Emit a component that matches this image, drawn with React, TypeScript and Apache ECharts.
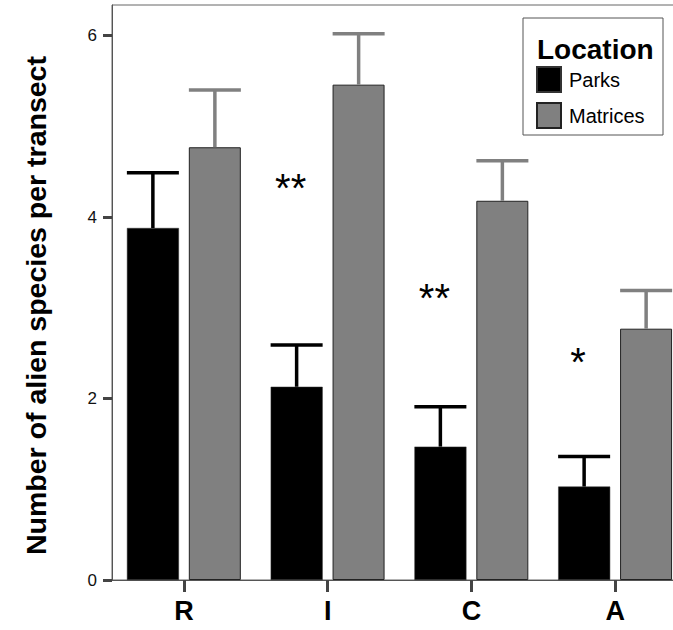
import React, { useEffect, useRef } from "react";
import * as echarts from "echarts";

const categories = ["R", "I", "C", "A"];
const parksMean = [3.88, 2.13, 1.47, 1.03];
const parksUpper = [4.49, 2.59, 1.91, 1.36];
const matricesMean = [4.77, 5.46, 4.18, 2.77];
const matricesUpper = [5.4, 6.02, 4.62, 3.19];
const sigLabels = ["", "**", "**", "*"];
const sigY = [0, 4.39, 3.18, 2.47];
const yTicks = [0, 2, 4, 6];
const yMax = 6.338;

const FONT = "'Liberation Sans', Arial, Helvetica, sans-serif";
const BAR_W = 52;
const HALF_OFF = 31;

function errorSeries(name: string, means: number[], uppers: number[], color: string, dir: number) {
  return {
    type: "custom",
    name: name + " error",
    z: 5,
    silent: true,
    data: means.map((m, i) => [i, m, uppers[i]]),
    renderItem: (params: any, api: any) => {
      const base = api.coord([api.value(0), api.value(1)]);
      const top = api.coord([api.value(0), api.value(2)]);
      const cx = base[0] + dir * HALF_OFF;
      const lw = 3.5;
      return {
        type: "group",
        children: [
          {
            type: "line",
            shape: { x1: cx, y1: base[1], x2: cx, y2: top[1] },
            style: { stroke: color, lineWidth: lw },
          },
          {
            type: "line",
            shape: { x1: cx - BAR_W / 2, y1: top[1], x2: cx + BAR_W / 2, y2: top[1] },
            style: { stroke: color, lineWidth: lw },
          },
        ],
      };
    },
  };
}

export default function App() {
  const ref = useRef<HTMLDivElement>(null);
  useEffect(() => {
    document.body.style.margin = "0";
    if (!ref.current) return;
    const chart = echarts.init(ref.current, null, { renderer: "svg" });
    const option: any = {
      animation: false,
      backgroundColor: "#ffffff",
      textStyle: { fontFamily: FONT },
      grid: {
        left: 112,
        top: 5,
        width: 575,
        height: 575,
        outerBoundsMode: "none",
        containLabel: false,
        show: true,
        borderColor: "#666",
        borderWidth: 1,
        backgroundColor: "transparent",
      },
      legend: {
        orient: "vertical",
        left: 536,
        top: 66,
        itemWidth: 24,
        itemHeight: 25,
        itemGap: 9,
        icon: "rect",
        padding: 0,
        data: ["Parks", "Matrices"],
        textStyle: { fontFamily: FONT, fontSize: 20, color: "#000", padding: [0, 0, 0, 3] },
      },
      graphic: [
        {
          type: "rect",
          z: -1,
          shape: { x: 523, y: 18, width: 140, height: 117 },
          style: { fill: "#fff", stroke: "#555", lineWidth: 1 },
        },
        {
          type: "text",
          x: 537,
          y: 49,
          style: {
            text: "Location",
            font: "bold 28px " + FONT,
            fill: "#000",
            textVerticalAlign: "middle",
          },
        },
      ],
      xAxis: {
        type: "category",
        data: categories,
        axisLine: { show: true, lineStyle: { color: "#555", width: 1 } },
        axisTick: { show: true, alignWithLabel: true, length: 12, lineStyle: { color: "#444", width: 3 } },
        axisLabel: { margin: 17, fontSize: 27, fontWeight: "bold", color: "#000", fontFamily: FONT },
        splitLine: { show: false },
      },
      yAxis: {
        type: "value",
        min: 0,
        max: yMax,
        name: "Number of alien species per transect",
        nameLocation: "middle",
        nameGap: 62,
        nameTextStyle: {
          fontSize: 28.5,
          fontWeight: "bold",
          color: "#000",
          fontFamily: FONT,
          padding: [0, 26, 0, 0],
        },
        axisLine: { show: true, lineStyle: { color: "#555", width: 1 } },
        axisTick: { show: true, length: 9, customValues: yTicks, lineStyle: { color: "#444", width: 3 } },
        axisLabel: { margin: 15, fontSize: 17, color: "#111", customValues: yTicks, fontFamily: FONT },
        splitLine: { show: false },
      },
      series: [
        {
          type: "bar",
          name: "Parks",
          data: parksMean,
          barWidth: BAR_W,
          barGap: "19%",
          itemStyle: { color: "#000", borderColor: "#333", borderWidth: 0.5 },
        },
        {
          type: "bar",
          name: "Matrices",
          data: matricesMean,
          barWidth: BAR_W,
          barGap: "19%",
          itemStyle: { color: "#808080", borderColor: "#222", borderWidth: 1 },
        },
        errorSeries("Parks", parksMean, parksUpper, "#000", -1),
        errorSeries("Matrices", matricesMean, matricesUpper, "#808080", 1),
        {
          type: "custom",
          name: "significance",
          silent: true,
          z: 6,
          data: sigY.map((y, i) => [i, y]),
          renderItem: (params: any, api: any) => {
            const label = sigLabels[params.dataIndex];
            if (!label) return null;
            const p = api.coord([api.value(0), api.value(1)]);
            return {
              type: "text",
              x: p[0] - 37,
              y: p[1] + 6,
              style: {
                text: label,
                font: "40px " + FONT,
                fill: "#000",
                textAlign: "center",
                textVerticalAlign: "middle",
              },
            };
          },
        },
      ],
    };
    chart.setOption(option);
    return () => chart.dispose();
  }, []);
  return <div ref={ref} style={{ width: 673, height: 630 }} />;
}
